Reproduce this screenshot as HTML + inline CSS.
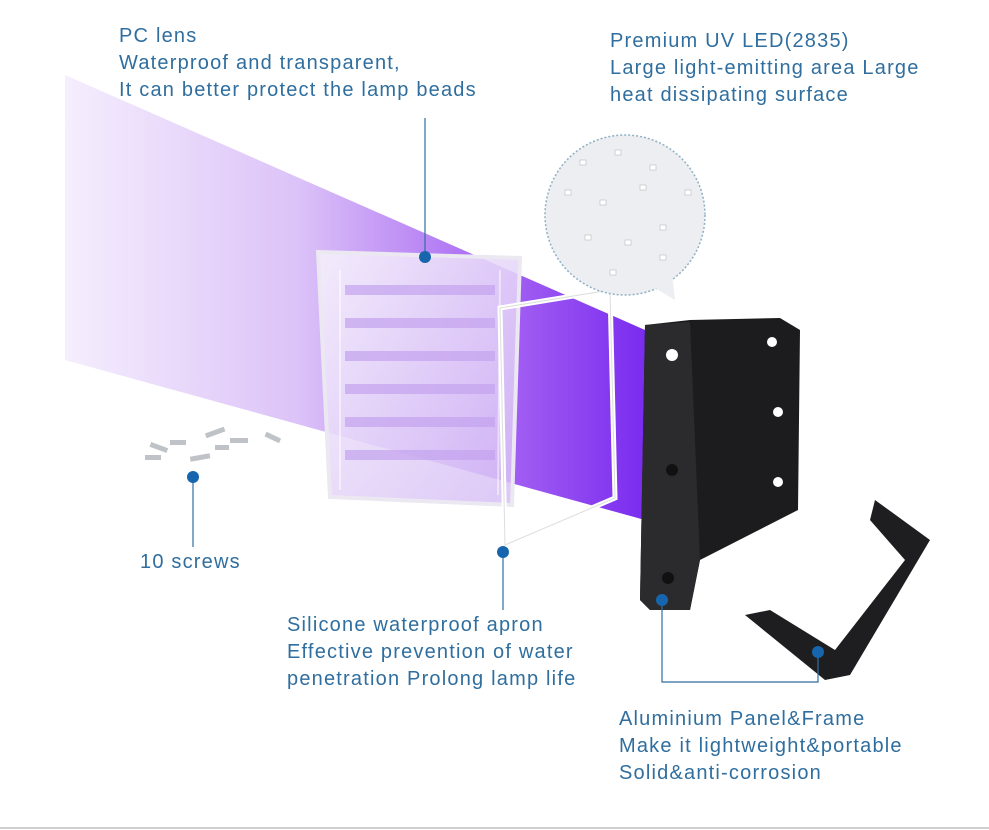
<!DOCTYPE html>
<html><head><meta charset="utf-8"><style>
body{margin:0;width:989px;height:830px;background:#fff;overflow:hidden;position:relative;font-family:"Liberation Sans",sans-serif}
.t{position:absolute;color:#2f6e9e;font-size:20px;line-height:27px;letter-spacing:1.2px}
svg{position:absolute;left:0;top:0}
</style></head><body>
<svg width="989" height="830" viewBox="0 0 989 830">
<defs>
<linearGradient id="beam" x1="0" y1="0" x2="1" y2="0">
<stop offset="0" stop-color="#f5eefd"/>
<stop offset="0.4" stop-color="#dcc3f8"/>
<stop offset="0.75" stop-color="#a563f2"/>
<stop offset="1" stop-color="#7a2cef"/>
</linearGradient>
<linearGradient id="lens" x1="0" y1="0" x2="1" y2="1">
<stop offset="0" stop-color="#f6f1fc" stop-opacity="0.9"/>
<stop offset="1" stop-color="#d6bdf5" stop-opacity="0.85"/>
</linearGradient>
</defs>
<polygon points="65,75 645,330 645,520 65,360" fill="url(#beam)"/>
<!-- lens -->
<polygon points="318,252 520,258 512,505 330,497" fill="url(#lens)" stroke="#ece8f2" stroke-width="4"/>
<g fill="#c4a3ef" opacity="0.7">
<rect x="345" y="285" width="150" height="10"/><rect x="345" y="318" width="150" height="10"/>
<rect x="345" y="351" width="150" height="10"/><rect x="345" y="384" width="150" height="10"/>
<rect x="345" y="417" width="150" height="10"/><rect x="345" y="450" width="150" height="10"/>
</g>
<g stroke="#fff" stroke-opacity="0.5" stroke-width="2">
<line x1="340" y1="270" x2="340" y2="490"/><line x1="500" y1="270" x2="498" y2="495"/>
</g>
<!-- apron -->
<polygon points="500,308 610,290 615,498 505,545" fill="none" stroke="#fff" stroke-width="5"/>
<polygon points="500,308 610,290 615,498 505,545" fill="none" stroke="#ddd" stroke-width="1"/>
<!-- bubble -->
<circle cx="625" cy="215" r="80" fill="#eceef2" stroke="#8fb0c4" stroke-width="1.5" stroke-dasharray="2,2"/>
<polygon points="650,285 675,300 672,272" fill="#eceef2"/>
<g fill="#fff" stroke="#b9b9b9" stroke-width="0.6">
<rect x="580" y="160" width="6" height="5"/><rect x="615" y="150" width="6" height="5"/><rect x="650" y="165" width="6" height="5"/>
<rect x="565" y="190" width="6" height="5"/><rect x="600" y="200" width="6" height="5"/><rect x="640" y="185" width="6" height="5"/>
<rect x="685" y="190" width="6" height="5"/><rect x="585" y="235" width="6" height="5"/><rect x="625" y="240" width="6" height="5"/>
<rect x="660" y="225" width="6" height="5"/><rect x="610" y="270" width="6" height="5"/><rect x="660" y="255" width="6" height="5"/>
</g>
<!-- lamp body -->
<polygon points="645,325 690,320 780,318 800,330 798,510 700,560 690,610 650,610 640,600" fill="#1c1c1e"/>
<polygon points="645,325 690,322 700,560 690,610 650,610 640,600" fill="#2b2b2d"/>
<g fill="#fff"><circle cx="672" cy="355" r="6"/><circle cx="772" cy="342" r="5"/><circle cx="778" cy="412" r="5"/><circle cx="778" cy="482" r="5"/></g>
<g fill="#111"><circle cx="672" cy="470" r="6"/><circle cx="668" cy="578" r="6"/></g>
<!-- bracket -->
<polygon points="745,615 770,610 835,650 905,560 870,520 875,500 930,540 850,675 825,680" fill="#1e1e20"/>
<!-- screws -->
<g fill="#bfc3c8">
<rect x="150" y="445" width="18" height="5" transform="rotate(20 159 447)"/><rect x="170" y="440" width="16" height="5"/>
<rect x="205" y="430" width="20" height="5" transform="rotate(-20 215 432)"/><rect x="230" y="438" width="18" height="5"/>
<rect x="265" y="435" width="16" height="5" transform="rotate(25 273 437)"/><rect x="190" y="455" width="20" height="5" transform="rotate(-10 200 457)"/>
<rect x="145" y="455" width="16" height="5"/><rect x="215" y="445" width="14" height="5"/>
</g>
<!-- leader lines -->
<g stroke="#2f6e9e" stroke-width="1.2" fill="none">
<line x1="425" y1="118" x2="425" y2="257"/>
<line x1="193" y1="477" x2="193" y2="547"/>
<line x1="503" y1="552" x2="503" y2="610"/>
<polyline points="662,600 662,682 818,682 818,652"/>
</g>
<g fill="#1766ad">
<circle cx="425" cy="257" r="6"/><circle cx="193" cy="477" r="6"/><circle cx="503" cy="552" r="6"/>
<circle cx="662" cy="600" r="6"/><circle cx="818" cy="652" r="6"/>
</g>
<line x1="0" y1="828" x2="989" y2="828" stroke="#d0d0d0" stroke-width="2"/>
</svg>
<div class="t" style="left:119px;top:23px">PC lens<br>Waterproof and transparent,<br>It can better protect the lamp beads</div>
<div class="t" style="left:610px;top:28px">Premium UV LED(2835)<br>Large light-emitting area Large<br>heat dissipating surface</div>
<div class="t" style="left:140px;top:549px">10 screws</div>
<div class="t" style="left:287px;top:612px">Silicone waterproof apron<br>Effective prevention of water<br>penetration Prolong lamp life</div>
<div class="t" style="left:619px;top:706px">Aluminium Panel&amp;Frame<br>Make it lightweight&amp;portable<br>Solid&amp;anti-corrosion</div>
</body></html>
